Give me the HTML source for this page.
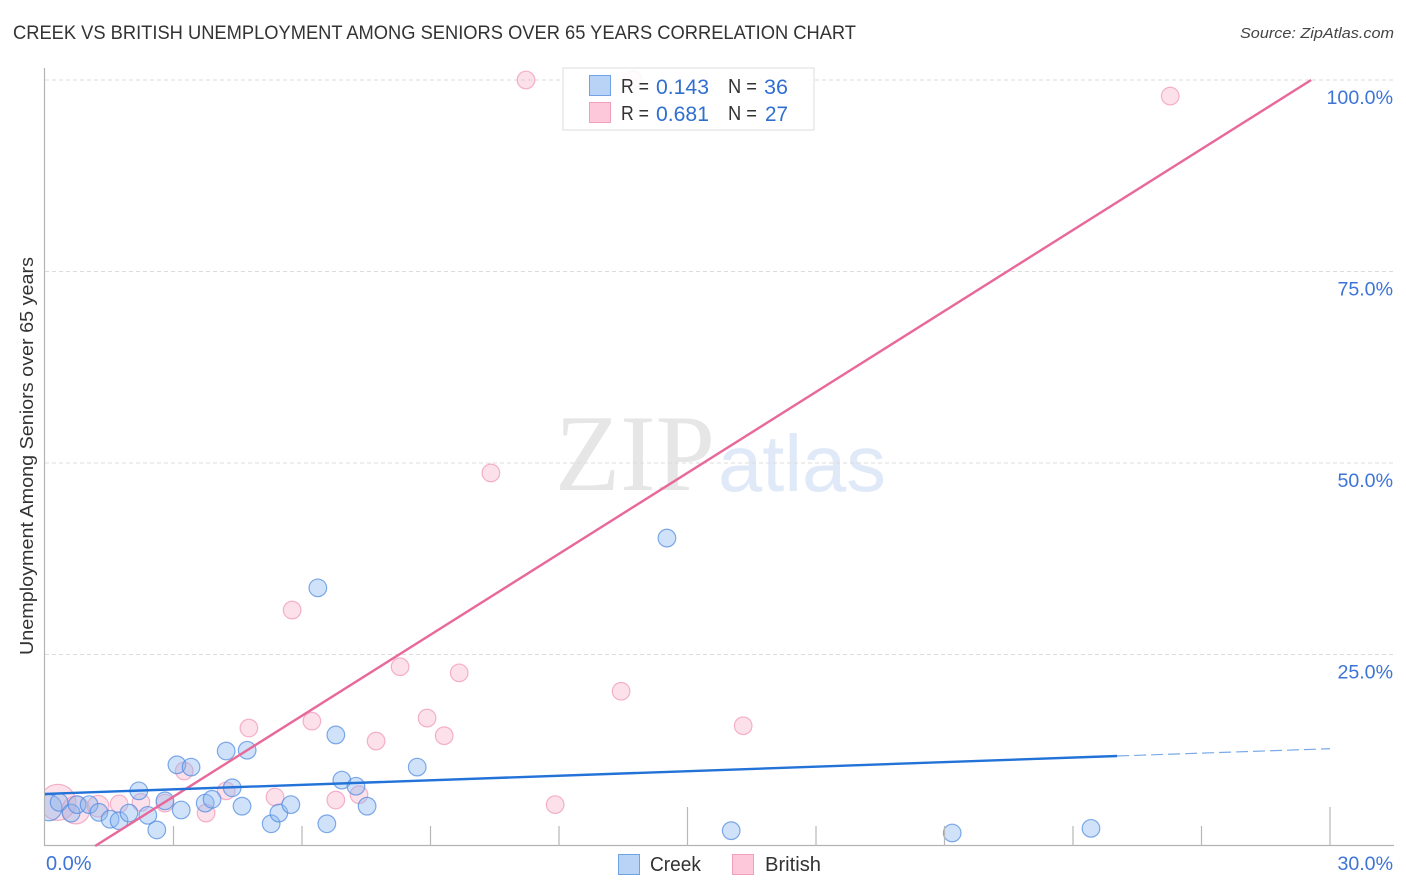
<!DOCTYPE html>
<html lang="en">
<head>
<meta charset="utf-8">
<title>Creek vs British Unemployment Among Seniors Over 65 Years Correlation Chart</title>
<style>
html,body{margin:0;padding:0;background:#fff;}
body{width:1406px;height:892px;overflow:hidden;}
svg{display:block;font-family:"Liberation Sans",sans-serif;}
</style>
</head>
<body>
<svg id="chart" xmlns="http://www.w3.org/2000/svg" width="1406" height="892" viewBox="0 0 1406 892">
  <defs>
    <clipPath id="plot-clip"><rect x="45" y="60" width="1349" height="786"/></clipPath>
  </defs>
  <rect x="0" y="0" width="1406" height="892" fill="#ffffff"/>
  <text x="13" y="39" font-size="19.5" fill="#333333" textLength="843" lengthAdjust="spacingAndGlyphs">CREEK VS BRITISH UNEMPLOYMENT AMONG SENIORS OVER 65 YEARS CORRELATION CHART</text>
  <text x="1394" y="38" font-size="15" font-style="italic" fill="#444" text-anchor="end" textLength="154" lengthAdjust="spacingAndGlyphs">Source: ZipAtlas.com</text>
  <text x="555" y="490" font-family="'Liberation Serif',serif" font-size="109" fill="#e6e6e6" textLength="160" lengthAdjust="spacingAndGlyphs">ZIP</text>
  <text x="718" y="491" font-size="80" fill="#dfe9f8" textLength="168" lengthAdjust="spacingAndGlyphs">atlas</text>
  <g id="grid"></g>
  <g id="british-points" clip-path="url(#plot-clip)"></g>
  <g id="creek-points" clip-path="url(#plot-clip)"></g>
  <g id="axes"></g>
  <g id="trends"></g>
  <g id="labels"></g>
  <text transform="translate(33,456) rotate(-90)" font-size="18.5" fill="#333" text-anchor="middle" textLength="398" lengthAdjust="spacingAndGlyphs">Unemployment Among Seniors over 65 years</text>

  <g>
    <rect x="563" y="68" width="251" height="62" fill="#ffffff" fill-opacity="0.88" stroke="#dddddd" stroke-width="1"/>
    <rect x="589.5" y="75.5" width="21" height="20" fill="#b9d3f6" stroke="#6fa3e6" stroke-width="1"/>
    <rect x="589.5" y="102.5" width="21" height="20" fill="#fcc8da" stroke="#f0a0bc" stroke-width="1"/>
    <text x="621" y="93" font-size="20" fill="#333" textLength="28" lengthAdjust="spacingAndGlyphs">R =</text>
    <text x="656" y="94" font-size="21" fill="#2f6fd0" textLength="53" lengthAdjust="spacingAndGlyphs">0.143</text>
    <text x="728" y="93" font-size="20" fill="#333" textLength="29" lengthAdjust="spacingAndGlyphs">N =</text>
    <text x="764" y="94" font-size="21" fill="#2f6fd0" textLength="24" lengthAdjust="spacingAndGlyphs">36</text>
    <text x="621" y="120" font-size="20" fill="#333" textLength="28" lengthAdjust="spacingAndGlyphs">R =</text>
    <text x="656" y="121" font-size="21" fill="#2f6fd0" textLength="53" lengthAdjust="spacingAndGlyphs">0.681</text>
    <text x="728" y="120" font-size="20" fill="#333" textLength="29" lengthAdjust="spacingAndGlyphs">N =</text>
    <text x="765" y="121" font-size="21" fill="#2f6fd0" textLength="23" lengthAdjust="spacingAndGlyphs">27</text>
  </g>

  <g>
    <rect x="618.5" y="854.5" width="21" height="20" fill="#b9d3f6" stroke="#6fa3e6" stroke-width="1"/>
    <text x="650" y="871" font-size="20" fill="#333" textLength="51" lengthAdjust="spacingAndGlyphs">Creek</text>
    <rect x="732.5" y="854.5" width="21" height="20" fill="#fcc8da" stroke="#f0a0bc" stroke-width="1"/>
    <text x="765" y="871" font-size="20" fill="#333" textLength="56" lengthAdjust="spacingAndGlyphs">British</text>
  </g>
</svg>
<script>
// Creek series: unemployment (%) against share of population (%)
const creekX = [0.09,0.33,0.61,0.75,1.03,1.26,1.52,1.73,1.96,2.19,2.40,2.61,2.80,3.18,3.08,3.41,3.74,3.90,4.23,4.72,4.37,4.60,5.28,5.46,5.74,6.58,6.79,6.93,7.26,7.52,8.69,6.37,14.52,16.02,21.18,24.42];
const creekY = [5.0,5.7,4.3,5.4,5.4,4.4,3.5,3.3,4.3,7.2,4.0,2.1,5.9,4.7,10.6,10.3,5.6,6.1,12.4,12.5,7.6,5.2,2.9,4.3,5.4,2.9,14.5,8.6,7.8,5.2,10.3,33.7,40.2,2.0,1.7,2.3];
const creekWeight = [2.2,1,1,1,1,1,1,1,1,1,1,1,1,1,1,1,1,1,1,1,1,1,1,1,1,1,1,1,1,1,1,1,1,1,1,1];
// British series
const britishX = [0.30,0.72,1.24,1.73,2.24,2.80,3.25,3.76,4.23,4.76,5.37,6.23,6.79,7.33,7.73,5.77,8.29,8.92,9.32,9.67,10.41,11.23,11.91,13.45,13.73,16.30,26.27];
const britishY = [5.7,4.7,5.2,5.5,5.7,5.6,9.8,4.3,7.2,15.4,6.4,16.3,6.0,6.7,13.7,30.8,23.4,16.7,14.4,22.6,48.7,100,5.4,20.2,100,15.7,97.9];
const britishWeight = [4.2,2.5,1.5,1,1,1,1,1,1,1,1,1,1,1,1,1,1,1,1,1,1,1,1,1,1,1,1];
// Trend lines: [x, y] endpoints in data units
const creekTrendX = [0, 25.03, 30];
const creekTrendY = [6.8, 11.75, 12.7];
const britishTrendX = [1.17, 29.56];
const britishTrendY = [0, 100];
// Axis ticks
const yTicks = [25, 50, 75, 100];
const yTickLabels = ["25.0%", "50.0%", "75.0%", "100.0%"];
const xTicks = [3, 6, 9, 12, 15, 18, 21, 24, 27, 30];
const xMajorTicks = [15, 30];
const xEndLabels = ["0.0%", "30.0%"];

const NS = "http://www.w3.org/2000/svg";
const sx = v => 45 + v * (1285 / 30);
const sy = v => 846 - v * 7.66;
const sr = w => 8.8 * Math.sqrt(w);

function mk(parent, tag, attrs) {
  const el = document.createElementNS(NS, tag);
  for (const k in attrs) el.setAttribute(k, attrs[k]);
  document.getElementById(parent).appendChild(el);
  return el;
}

yTicks.forEach((t, i) => {
  const g = mk("grid", "line", {x1: 45, x2: 1393, y1: sy(t), y2: sy(t), stroke: "#dcdcdc", "stroke-width": 1, "stroke-dasharray": "4 3"});
  
  
  const lab = mk("labels", "text", {x: 1393, y: sy(t) + 24, "font-size": 19.6, fill: "#3d74d6", "text-anchor": "end"});
  lab.textContent = yTickLabels[i];
  
  
});

britishX.forEach((x, i) => {
  const c = mk("british-points", "circle", {cx: sx(x), cy: sy(britishY[i]), r: sr(britishWeight[i]), fill: "#f7a8c4", "fill-opacity": 0.35, stroke: "#f08cb0", "stroke-opacity": 0.65, "stroke-width": 1.2});
  
  
});

creekX.forEach((x, i) => {
  const c = mk("creek-points", "circle", {cx: sx(x), cy: sy(creekY[i]), r: sr(creekWeight[i]), fill: "#8ab6ef", "fill-opacity": 0.4, stroke: "#4f8ae0", "stroke-opacity": 0.72, "stroke-width": 1.2});
  
  
});

const yAxis = mk("axes", "line", {x1: 44.5, x2: 44.5, y1: 68, y2: 846, stroke: "#b3b3b3", "stroke-width": 1.2});


const xAxis = mk("axes", "line", {x1: 44, x2: 1394, y1: 845.5, y2: 845.5, stroke: "#b3b3b3", "stroke-width": 1.2});


xTicks.forEach(t => {
  const major = xMajorTicks.includes(t);
  const tk = mk("axes", "line", {x1: sx(t), x2: sx(t), y1: major ? 807 : 826, y2: 846, stroke: "#b8b8b8", "stroke-width": 1.2});
  
  
});

const pinkLine = mk("trends", "line", {x1: sx(britishTrendX[0]), y1: sy(britishTrendY[0]), x2: sx(britishTrendX[1]), y2: sy(britishTrendY[1]), stroke: "#e8689a", "stroke-width": 2.4});


const blueLine = mk("trends", "line", {x1: sx(creekTrendX[0]), y1: sy(creekTrendY[0]), x2: sx(creekTrendX[1]), y2: sy(creekTrendY[1]), stroke: "#2272d8", "stroke-width": 2.4});


const blueDash = mk("trends", "line", {x1: sx(creekTrendX[1]), y1: sy(creekTrendY[1]), x2: sx(creekTrendX[2]), y2: sy(creekTrendY[2]), stroke: "#2272d8", "stroke-opacity": 0.6, "stroke-width": 1.2, "stroke-dasharray": "12 5"});



const x0 = mk("labels", "text", {x: 46, y: 870, "font-size": 20, fill: "#3d74d6"});
x0.textContent = xEndLabels[0];


const x1 = mk("labels", "text", {x: 1393, y: 870, "font-size": 19.6, fill: "#3d74d6", "text-anchor": "end"});
x1.textContent = xEndLabels[1];


</script>
</body>
</html>
